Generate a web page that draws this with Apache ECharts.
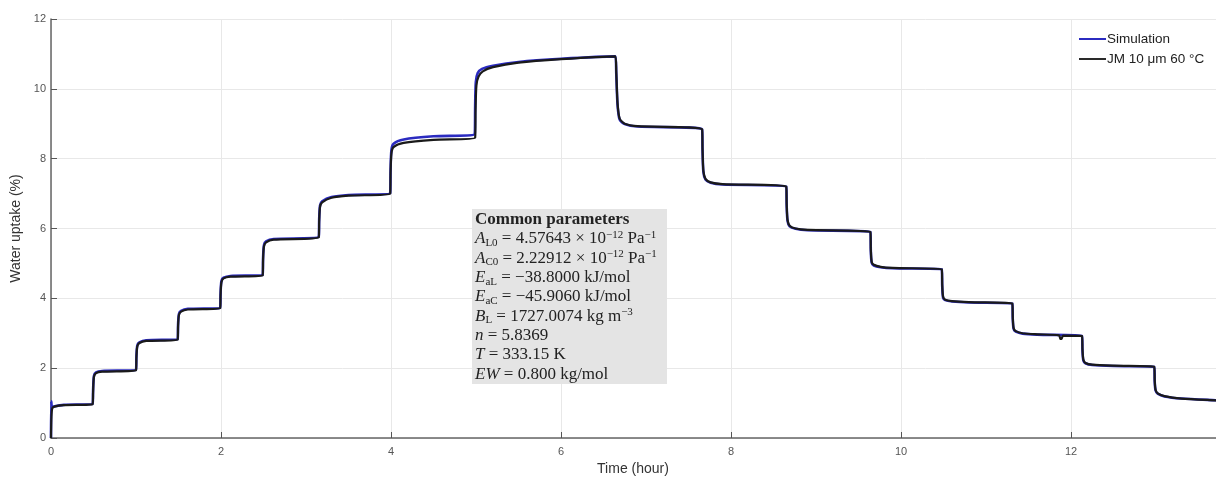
<!DOCTYPE html>
<html>
<head>
<meta charset="utf-8">
<title>Water uptake</title>
<script src="https://cdn.jsdelivr.net/npm/echarts@6/dist/echarts.min.js"></script>
<style>
  html, body { margin: 0; padding: 0; background: #fff; }
  #chart { width: 1216px; height: 479px; }
</style>
</head>
<body>
<div id="chart"></div>
<script>
// measured (JM 10 um 60 C) - time in hours, uptake in %
var expTime = [0, 0.005, 0.015, 0.04, 0.15, 0.49,
  0.495, 0.505, 0.53, 0.6, 1.0,
  1.005, 1.015, 1.04, 1.12, 1.49,
  1.495, 1.505, 1.53, 1.61, 1.99,
  1.995, 2.005, 2.03, 2.11, 2.49,
  2.495, 2.505, 2.53, 2.62, 3.15,
  3.155, 3.165, 3.19, 3.3, 3.5, 3.99,
  3.995, 4.005, 4.03, 4.15, 4.5, 4.99,
  4.995, 5.005, 5.03, 5.08, 5.2, 5.5, 6.0, 6.64,
  6.65, 6.665, 6.69, 6.75, 6.9, 7.66,
  7.665, 7.675, 7.7, 7.76, 7.9, 8.65,
  8.655, 8.665, 8.69, 8.76, 8.9, 9.64,
  9.645, 9.655, 9.68, 9.76, 9.9, 10.48,
  10.485, 10.495, 10.52, 10.6, 10.8, 11.31,
  11.315, 11.325, 11.35, 11.43, 11.6, 11.86, 11.875, 11.89, 11.905, 12.13,
  12.135, 12.145, 12.17, 12.25, 12.5, 12.98,
  12.985, 12.995, 13.02, 13.1, 13.3, 13.7, 13.8];
var expUptake = [0, 0.6, 0.85, 0.9, 0.94, 0.97,
  1.3, 1.75, 1.86, 1.9, 1.94,
  2.3, 2.62, 2.72, 2.78, 2.82,
  3.2, 3.52, 3.62, 3.68, 3.72,
  4.1, 4.46, 4.57, 4.62, 4.66,
  5.1, 5.48, 5.6, 5.68, 5.75,
  6.2, 6.62, 6.75, 6.88, 6.94, 7.0,
  7.6, 8.15, 8.33, 8.45, 8.54, 8.6,
  9.4, 10.1, 10.35, 10.5, 10.62, 10.75, 10.85, 10.93,
  10.5, 9.6, 9.15, 9.0, 8.93, 8.84,
  8.3, 7.65, 7.42, 7.32, 7.27, 7.2,
  6.7, 6.25, 6.08, 6.0, 5.96, 5.9,
  5.4, 5.05, 4.96, 4.9, 4.87, 4.83,
  4.4, 4.05, 3.96, 3.92, 3.89, 3.85,
  3.45, 3.15, 3.06, 3.0, 2.97, 2.94, 2.84, 2.84, 2.93, 2.92,
  2.55, 2.25, 2.15, 2.1, 2.07, 2.04,
  1.65, 1.38, 1.28, 1.2, 1.13, 1.08, 1.07];

// simulation
var simTime = [0, 0.003, 0.012, 0.03, 0.15, 0.49,
  0.495, 0.505, 0.53, 0.6, 1.0,
  1.005, 1.015, 1.04, 1.12, 1.49,
  1.495, 1.505, 1.53, 1.61, 1.99,
  1.995, 2.005, 2.03, 2.11, 2.49,
  2.495, 2.505, 2.53, 2.62, 3.15,
  3.155, 3.165, 3.19, 3.3, 3.5, 3.99,
  3.995, 4.005, 4.03, 4.15, 4.5, 4.985,
  4.99, 4.998, 5.02, 5.07, 5.2, 5.5, 6.0, 6.64,
  6.65, 6.665, 6.69, 6.75, 6.9, 7.66,
  7.665, 7.675, 7.7, 7.76, 7.9, 8.65,
  8.655, 8.665, 8.69, 8.76, 8.9, 9.64,
  9.645, 9.655, 9.68, 9.76, 9.9, 10.48,
  10.485, 10.495, 10.52, 10.6, 10.8, 11.31,
  11.315, 11.325, 11.35, 11.43, 11.6, 12.13,
  12.135, 12.145, 12.17, 12.25, 12.5, 12.98,
  12.985, 12.995, 13.02, 13.1, 13.3, 13.7, 13.8];
var simUptake = [0, 1.05, 0.88, 0.9, 0.95, 0.98,
  1.35, 1.78, 1.88, 1.92, 1.95,
  2.35, 2.65, 2.74, 2.8, 2.83,
  3.25, 3.55, 3.64, 3.7, 3.73,
  4.15, 4.5, 4.59, 4.64, 4.67,
  5.15, 5.52, 5.63, 5.7, 5.76,
  6.25, 6.66, 6.78, 6.9, 6.96, 7.01,
  7.7, 8.25, 8.43, 8.55, 8.64, 8.7,
  9.5, 10.2, 10.45, 10.57, 10.66, 10.77, 10.86, 10.93,
  10.45, 9.55, 9.12, 8.99, 8.92, 8.84,
  8.25, 7.62, 7.4, 7.31, 7.26, 7.2,
  6.65, 6.22, 6.06, 5.99, 5.95, 5.9,
  5.35, 5.02, 4.94, 4.89, 4.86, 4.83,
  4.35, 4.02, 3.95, 3.91, 3.88, 3.85,
  3.4, 3.12, 3.05, 2.99, 2.96, 2.92,
  2.5, 2.22, 2.14, 2.09, 2.06, 2.04,
  1.6, 1.36, 1.27, 1.19, 1.13, 1.08, 1.07];

var xTicks = [0, 2, 4, 6, 8, 10, 12, 14];
var yTicks = [0, 2, 4, 6, 8, 10, 12];

function zip(a, b) {
  var out = [];
  for (var i = 0; i < a.length; i++) out.push([a[i], b[i]]);
  return out;
}

var serifFont = '"Liberation Serif", "DejaVu Serif", serif';
var boxLines = [
  '{b|Common parameters}',
  '{i|A}{s|L0}{n| = 4.57643 × 10}{p|−12}{n| Pa}{p|−1}',
  '{i|A}{s|C0}{n| = 2.22912 × 10}{p|−12}{n| Pa}{p|−1}',
  '{i|E}{s|aL}{n| = −38.8000 kJ/mol}',
  '{i|E}{s|aC}{n| = −45.9060 kJ/mol}',
  '{i|B}{s|L}{n| = 1727.0074 kg m}{p|−3}',
  '{i|n}{n| = 5.8369}',
  '{i|T}{n| = 333.15 K}',
  '{i|EW}{n| = 0.800 kg/mol}'
];

window.onload = function () {
  var myChart = echarts.init(document.getElementById("chart"));
  var option = {
    backgroundColor: "#fff",
    animation: false,
    grid: {
      left: 51,
      top: 19,
      width: 1190,
      height: 419,
      outerBoundsMode: "none",
    },
    legend: {
      orient: "vertical",
      left: 1074,
      top: 27,
      itemGap: 6,
      itemWidth: 27,
      itemHeight: 2,
      icon: "rect",
      textStyle: {
        fontFamily: '"Liberation Sans", Arial, sans-serif',
        fontSize: 13.5,
        color: "#222",
        padding: [0, 0, 0, -4],
      },
      data: ["Simulation", "JM 10 μm 60 °C"],
    },
    xAxis: {
      type: "value",
      min: 0,
      max: 14,
      interval: 2,
      name: "Time (hour)",
      nameLocation: "middle",
      nameGap: 24,
      nameTextStyle: {
        fontFamily: '"Liberation Sans", Arial, sans-serif',
        fontSize: 14,
        color: "#333",
        padding: [0, 26, 0, 0],
      },
      axisLine: { onZero: false, lineStyle: { color: "#666", width: 1.5 } },
      axisTick: { inside: true, length: 6, lineStyle: { color: "#555" } },
      axisLabel: {
        margin: 8,
        fontFamily: '"Liberation Sans", Arial, sans-serif',
        fontSize: 11,
        color: "#555",
        formatter: function (v) { return xTicks.indexOf(v) >= 0 ? String(v) : ""; },
      },
      splitLine: { show: true, lineStyle: { color: "#e8e8e8", width: 1 } },
    },
    yAxis: {
      type: "value",
      min: 0,
      max: 12,
      interval: 2,
      name: "Water uptake (%)",
      nameLocation: "middle",
      nameGap: 24,
      nameTextStyle: {
        fontFamily: '"Liberation Sans", Arial, sans-serif',
        fontSize: 14,
        color: "#333",
      },
      axisLine: { show: true, lineStyle: { color: "#666", width: 1.5 } },
      axisTick: { show: true, inside: true, length: 6, lineStyle: { color: "#555" } },
      axisLabel: {
        margin: 5,
        fontFamily: '"Liberation Sans", Arial, sans-serif',
        fontSize: 11,
        color: "#555",
        formatter: function (v) { return yTicks.indexOf(v) >= 0 ? String(v) : ""; },
      },
      splitLine: { show: true, lineStyle: { color: "#e8e8e8", width: 1 } },
    },
    graphic: [
      {
        type: "rect",
        left: 472,
        top: 209,
        shape: { width: 195, height: 175 },
        style: { fill: "#e4e4e4" },
        z: 10,
      },
      {
        type: "text",
        left: 475,
        top: 210,
        z: 11,
        style: {
          text: boxLines.join("\n"),
          fill: "#222",
          font: "17px " + serifFont,
          lineHeight: 19.3,
          rich: {
            b: { fontFamily: serifFont, fontSize: 17, fontWeight: "bold", lineHeight: 19.3, fill: "#222" },
            n: { fontFamily: serifFont, fontSize: 17, lineHeight: 19.3, fill: "#222" },
            i: { fontFamily: serifFont, fontSize: 17, fontStyle: "italic", lineHeight: 19.3, fill: "#222" },
            s: { fontFamily: serifFont, fontSize: 11, verticalAlign: "bottom", fill: "#222" },
            p: { fontFamily: serifFont, fontSize: 11, verticalAlign: "top", fill: "#222" },
          },
        },
      },
    ],
    series: [
      {
        name: "Simulation",
        type: "line",
        showSymbol: false,
        smooth: 0.25,
        z: 2,
        color: "#2b2bc0",
        lineStyle: { color: "#2b2bc0", width: 2.6 },
        data: zip(simTime, simUptake),
      },
      {
        name: "JM 10 μm 60 °C",
        type: "line",
        showSymbol: false,
        smooth: 0.25,
        z: 3,
        color: "#2a2a2a",
        lineStyle: { color: "#1a1a1a", width: 2.2 },
        data: zip(expTime, expUptake),
      },
    ],
  };
  myChart.setOption(option);
};
</script>
</body>
</html>
